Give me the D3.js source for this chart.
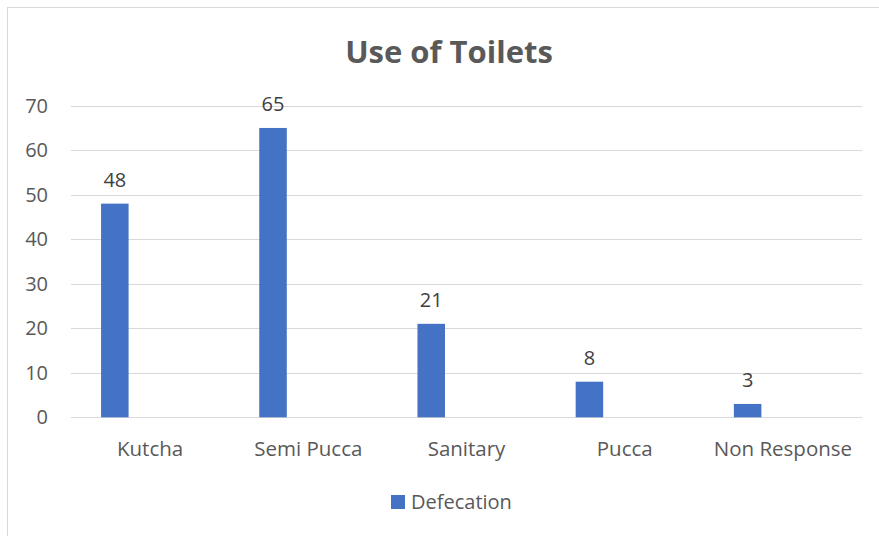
<!DOCTYPE html>
<html><head><meta charset="utf-8">
<script src="https://cdn.jsdelivr.net/npm/d3@7"></script>
<style>body{margin:0;background:#fff;}svg{display:block;font-family:"Open Sans",sans-serif;}</style>
</head><body>
<svg id="c" width="879" height="536"></svg>
<script>
const categories = ["Kutcha", "Semi Pucca", "Sanitary", "Pucca", "Non Response"];
const defecation = [48, 65, 21, 8, 3];
const seriesName = "Defecation";
const yTicks = [0, 10, 20, 30, 40, 50, 60, 70];
const title = "Use of Toilets";

const svg = d3.select("#c");
svg.append("rect").attr("x", 7.5).attr("y", 7.5).attr("width", 890).attr("height", 540)
  .attr("fill", "#fff").attr("stroke", "#d9d9d9").attr("stroke-width", 1);

const x = d3.scaleBand().domain(categories).range([71, 862]).padding(0);
const y = d3.scaleLinear().domain([0, 70]).range([417.3, 105.7]);

// gridlines
svg.append("g").selectAll("line").data(yTicks).join("line")
  .attr("x1", 71).attr("x2", 862)
  .attr("y1", d => Math.round(y(d)) + 0.5).attr("y2", d => Math.round(y(d)) + 0.5)
  .attr("stroke", "#d9d9d9").attr("stroke-width", 1);

// y axis labels
const yAxis = svg.append("g").attr("transform", "translate(48,0)")
  .call(d3.axisLeft(y).tickValues(yTicks).tickSize(0).tickPadding(0));
yAxis.select(".domain").remove();
yAxis.selectAll("text").attr("font-size", 20).attr("fill", "#595959")
  .attr("font-family", "Open Sans, sans-serif");

// x axis labels
const xAxis = svg.append("g").attr("transform", "translate(0,417)")
  .call(d3.axisBottom(x).tickSize(0).tickPadding(0));
xAxis.select(".domain").remove();
xAxis.selectAll("text").attr("font-size", 20.5).attr("fill", "#595959")
  .attr("font-family", "Open Sans, sans-serif").attr("dy", null).attr("y", 39);

// bars
const bw = x.bandwidth();
const barOff = bw * 0.19, barW = bw * 0.174;
svg.append("g").selectAll("rect").data(defecation).join("rect")
  .attr("x", (d, i) => x(categories[i]) + barOff)
  .attr("width", barW)
  .attr("y", d => y(d))
  .attr("height", d => y(0) - y(d))
  .attr("fill", "#4472c4");

// data labels
svg.append("g").selectAll("text").data(defecation).join("text")
  .attr("x", (d, i) => x(categories[i]) + barOff + barW / 2)
  .attr("y", d => y(d) - 17)
  .attr("text-anchor", "middle")
  .attr("font-size", 20).attr("fill", "#404040")
  .text(d => d);

// title
svg.append("text").attr("x", 449).attr("y", 62.5).attr("text-anchor", "middle")
  .attr("font-size", 31).attr("font-weight", "bold").attr("fill", "#595959")
  .text(title);

// legend
svg.append("rect").attr("x", 391).attr("y", 495).attr("width", 14).attr("height", 14).attr("fill", "#4472c4");
svg.append("text").attr("x", 411).attr("y", 509).attr("font-size", 20).attr("fill", "#595959").text(seriesName);
</script>
</body></html>
